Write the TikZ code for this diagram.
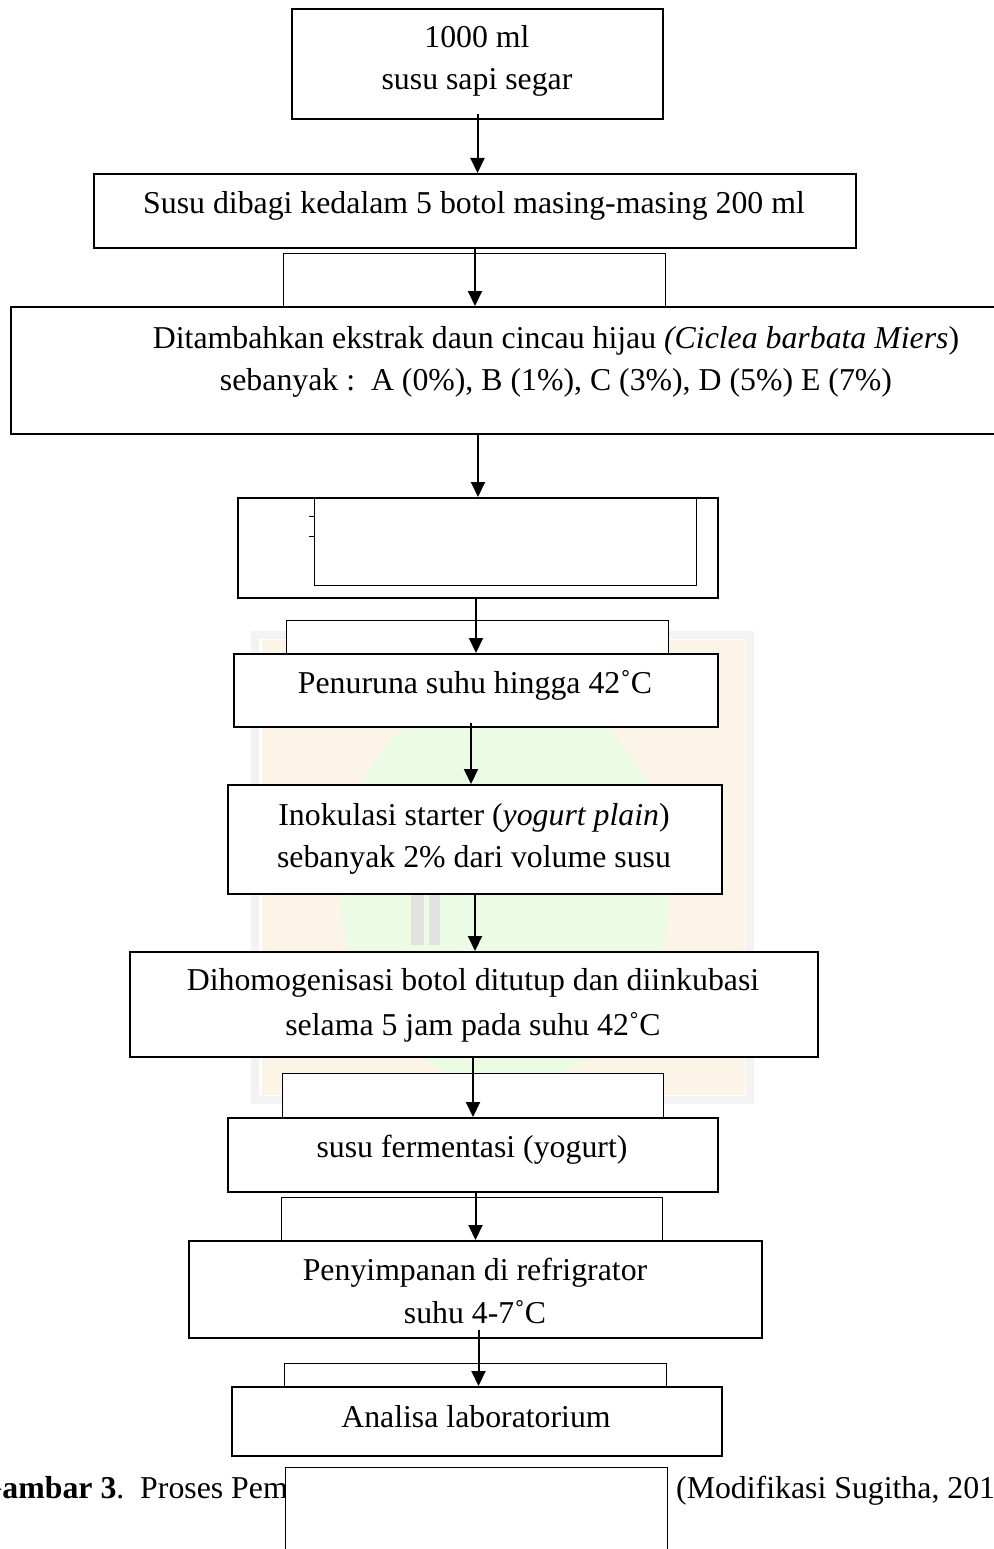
\documentclass[tikz,border=0pt]{standalone}
\usepackage{fontspec}
\setmainfont{Liberation Serif}
\usetikzlibrary{arrows.meta}
\definecolor{wmorange}{RGB}{253,244,232}
\definecolor{wmgreen}{RGB}{236,251,228}
\definecolor{wmgray}{RGB}{243,243,243}
\definecolor{wmbar}{RGB}{226,226,226}
\begin{document}
\begin{tikzpicture}[x=1pt,y=-1pt,
  box/.style={draw, line width=2pt, fill=white, inner sep=0pt, anchor=north west},
  hid/.style={draw, line width=1.4pt, fill=white, inner sep=0pt, anchor=north west},
  arr/.style={line width=2pt, -{Triangle[length=15pt,width=14pt]}},
  txt/.style={font=\fontsize{31.8}{42.5}\selectfont, inner sep=0pt, anchor=base}]
\useasboundingbox (0,0) rectangle (993,1549);
% faint watermark
\fill[wmorange] (262,640) rectangle (745,1095);
\fill[wmgreen] (505,885) ellipse (165 and 200);
\draw[wmgray, line width=8pt] (255,635) rectangle (750,1100);
\fill[wmbar] (411,894) rectangle (424,945);
\fill[wmbar] (429,894) rectangle (440,945);
% boxes
\node[box, minimum width=371pt, minimum height=110pt] (b1) at (291,8) {};
\node[box, minimum width=762pt, minimum height=74pt] (b2) at (93,173) {};
\node[hid, minimum width=382pt, minimum height=80pt] (h1) at (283,253) {};
\node[box, minimum width=1092pt, minimum height=127pt] (b3) at (9.5,306) {};
\node[box, minimum width=480pt, minimum height=100pt] (b4) at (237,497) {};
\node[hid, minimum width=382pt, minimum height=87pt] (h2) at (314,498) {};
\draw[line width=1pt] (309,516) -- (314,516) (309,536) -- (314,536);
\node[hid, minimum width=382pt, minimum height=60pt] (h3) at (286,620) {};
\node[box, minimum width=484pt, minimum height=73pt] (b5) at (233,653) {};
\node[box, minimum width=494pt, minimum height=109pt] (b6) at (227,784) {};
\node[box, minimum width=688pt, minimum height=105pt] (b7) at (129,951) {};
\node[hid, minimum width=381pt, minimum height=70pt] (h4) at (282,1073) {};
\node[box, minimum width=490pt, minimum height=74pt] (b8) at (227,1117) {};
\node[hid, minimum width=381pt, minimum height=60pt] (h5) at (281,1197) {};
\node[box, minimum width=573pt, minimum height=97pt] (b9) at (188,1240) {};
\node[hid, minimum width=382pt, minimum height=40pt] (h6) at (284,1363) {};
\node[box, minimum width=490pt, minimum height=69pt] (b10) at (231,1386) {};
% texts
\node[txt] (t1a) at (477,48) {1000 ml};
\node[txt] (t1b) at (477,90) {susu sapi segar};
\node[txt] (t2) at (474,213) {Susu dibagi kedalam 5 botol masing-masing 200 ml};
\node[txt] (t3a) at (556,348) {Ditambahkan ekstrak daun cincau hijau \textit{(Ciclea barbata Miers})};
\node[txt] (t3b) at (556,390) {sebanyak :\ \ A (0\%), B (1\%), C (3\%), D (5\%) E (7\%)};
\node[txt] (t5) at (475,693) {Penuruna suhu hingga 42˚C};
\node[txt] (t6a) at (474,825) {Inokulasi starter (\textit{yogurt plain})};
\node[txt] (t6b) at (474,867) {sebanyak 2\% dari volume susu};
\node[txt] (t7a) at (473,990) {Dihomogenisasi botol ditutup dan diinkubasi};
\node[txt] (t7b) at (473,1035) {selama 5 jam pada suhu 42˚C};
\node[txt] (t8) at (472,1157) {susu fermentasi (yogurt)};
\node[txt] (t9a) at (475,1280) {Penyimpanan di refrigrator};
\node[txt] (t9b) at (475,1323) {suhu 4-7˚C};
\node[txt] (t10) at (476,1427) {Analisa laboratorium};
\node[txt, anchor=base east] (capl) at (288,1498) {\textbf{Gambar 3}.\ \ Proses Pem};
\node[txt, anchor=base west] (capr) at (676,1498) {(Modifikasi Sugitha, 201};
\node[hid, minimum width=382pt, minimum height=100pt] (h7) at (285,1467) {};
% arrows
\draw[arr] ([yshift=6pt]b1.south) -- (b1.south |- b2.north);
\draw[arr] (b2.south) -- (b2.south |- b3.north);
\draw[arr] (b4.north |- b3.south) -- (b4.north);
\draw[arr] (b5.north |- b4.south) -- (b5.north);
\coordinate (c5) at ([xshift=-5pt,yshift=5pt]b5.south);
\draw[arr] (c5) -- (c5 |- b6.north);
\draw[arr] (b6.south) -- (b6.south |- b7.north);
\draw[arr] (b8.north |- b7.south) -- (b8.north);
\draw[arr] (b9.north |- b8.south) -- (b9.north);
\coordinate (c9) at ([xshift=3pt,yshift=9pt]b9.south);
\draw[arr] (c9) -- (c9 |- b10.north);
\end{tikzpicture}
\end{document}
